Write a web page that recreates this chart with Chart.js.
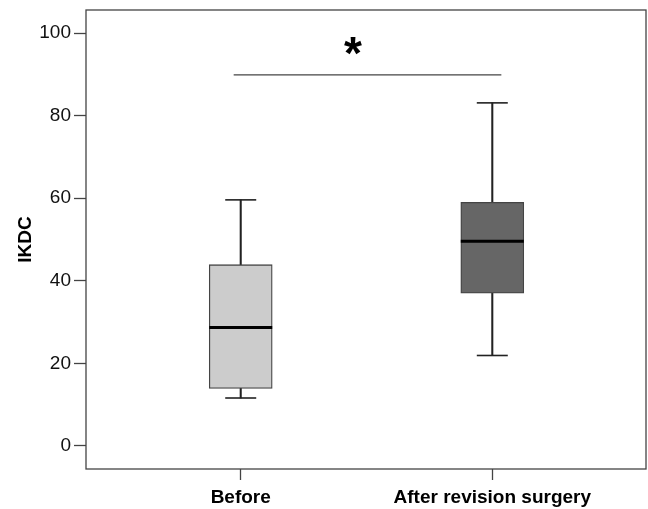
<!DOCTYPE html>
<html>
<head>
<meta charset="utf-8">
<script src="https://cdn.jsdelivr.net/npm/chart.js@4/dist/chart.umd.min.js"></script>
<style>
  body { margin: 0; background: #fff; }
  canvas { display: block; }
</style>
</head>
<body>
<canvas id="myChart" width="648" height="509"></canvas>
<script>
// groups and five-number summaries
var groups = ['Before', 'After revision surgery'];
var groupX = [1, 2];
var whiskerLow = [11.6, 21.9];
var q1 = [13.9, 37.0];
var median = [28.7, 49.6];
var q3 = [43.9, 59.0];
var whiskerHigh = [59.6, 83.1];
var boxColors = ['#cccccc', '#666666'];
var yTicks = [0, 20, 40, 60, 80, 100];

// significance bar and star
var sigLineX = [0.972, 2.036];
var sigLineY = 89.9;
var starPos = { x: 1.446, y: 96.8 };

var frameColor = '#444444';

var pts = function (vals) {
  return groupX.map(function (x, i) { return { x: x, y: vals[i] }; });
};

var noPad = function (s) {
  s.paddingTop = 0; s.paddingBottom = 0; s.paddingLeft = 0; s.paddingRight = 0;
};

// box frame + significance star
var framePlugin = {
  id: 'frame',
  beforeDatasetsDraw: function (chart) {
    var a = chart.chartArea, c = chart.ctx;
    c.save();
    c.strokeStyle = frameColor;
    c.lineWidth = 1.3;
    c.strokeRect(a.left, a.top, a.right - a.left, a.bottom - a.top);
    c.restore();
  },
  afterDatasetsDraw: function (chart) {
    var c = chart.ctx;
    var px = chart.scales.x.getPixelForValue(starPos.x);
    var py = chart.scales.y.getPixelForValue(starPos.y);
    c.save();
    c.fillStyle = '#000';
    c.font = 'bold 46px "Liberation Sans", Arial, sans-serif';
    c.textAlign = 'center';
    c.textBaseline = 'middle';
    c.fillText('*', px, py + 10);
    c.restore();
  }
};

var ctx = document.getElementById('myChart').getContext('2d');
var myChart = new Chart(ctx, {
  data: {
    datasets: [{
        // medians
        type: 'scatter',
        data: pts(median),
        pointStyle: 'line',
        pointRadius: 31.5,
        borderColor: '#000',
        borderWidth: 3
      }, {
        // whisker caps
        type: 'scatter',
        data: pts(whiskerLow).concat(pts(whiskerHigh)),
        pointStyle: 'line',
        pointRadius: 15.5,
        borderColor: '#222',
        borderWidth: 1.6
      }, {
        // boxes
        type: 'bar',
        data: groupX.map(function (x, i) { return { x: x, y: [q1[i], q3[i]] }; }),
        backgroundColor: boxColors,
        borderColor: frameColor,
        borderWidth: 1.3,
        borderSkipped: false,
        barThickness: 63,
        grouped: false
      }, {
        // whisker stems
        type: 'bar',
        data: groupX.map(function (x, i) { return { x: x, y: [whiskerLow[i], whiskerHigh[i]] }; }),
        backgroundColor: '#222',
        borderWidth: 0,
        barThickness: 1.4,
        grouped: false
      }, {
        // significance line
        type: 'line',
        data: sigLineX.map(function (x) { return { x: x, y: sigLineY }; }),
        borderColor: frameColor,
        borderWidth: 1.3,
        pointRadius: 0
      }
    ]
  },
  plugins: [framePlugin],
  options: {
    responsive: false,
    animation: false,
    devicePixelRatio: 1,
    layout: { autoPadding: false, padding: { left: 0, top: 10, right: 2, bottom: 0 } },
    plugins: {
      legend: { display: false },
      tooltip: { enabled: false }
    },
    scales: {
      x: {
        type: 'linear',
        min: 0.385,
        max: 2.611,
        offset: false,
        afterBuildTicks: function (s) { s.ticks = groupX.map(function (v) { return { value: v }; }); },
        afterFit: function (s) { s.height = 40; noPad(s); },
        border: { display: false },
        grid: { offset: false, drawOnChartArea: false, drawTicks: true, tickLength: 11, tickColor: frameColor, tickWidth: 1.3 },
        ticks: {
          padding: 6,
          maxRotation: 0,
          autoSkip: false,
          color: '#000',
          font: { family: '"Liberation Sans", Arial, sans-serif', size: 19, weight: 'bold' },
          callback: function (v) { return groups[groupX.indexOf(v)] || ''; }
        }
      },
      y: {
        min: -5.6,
        max: 105.6,
        afterBuildTicks: function (s) { s.ticks = yTicks.map(function (v) { return { value: v }; }); },
        afterFit: function (s) { s.width = 86; noPad(s); },
        border: { display: false },
        grid: { drawOnChartArea: false, drawTicks: true, tickLength: 12, tickColor: frameColor, tickWidth: 1.3 },
        ticks: {
          padding: 3,
          color: '#111',
          font: { family: '"Liberation Sans", Arial, sans-serif', size: 19 }
        },
        title: {
          display: true,
          text: 'IKDC',
          color: '#000',
          padding: { top: 14 },
          font: { family: '"Liberation Sans", Arial, sans-serif', size: 19, weight: 'bold' }
        }
      }
    }
  }
});
</script>
</body>
</html>
